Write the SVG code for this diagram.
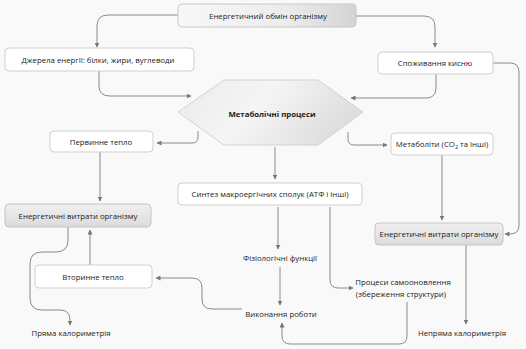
<svg xmlns="http://www.w3.org/2000/svg" width="526" height="349" viewBox="0 0 526 349">
<defs>
<linearGradient id="gTop" x1="0" y1="0" x2="1" y2="0">
<stop offset="0" stop-color="#f8f8f8"/><stop offset="0.6" stop-color="#ececec"/><stop offset="1" stop-color="#d4d4d4"/>
</linearGradient>
<linearGradient id="gBox" x1="0" y1="0" x2="0" y2="1">
<stop offset="0" stop-color="#f0f0f0"/><stop offset="0.5" stop-color="#e6e6e6"/><stop offset="1" stop-color="#dadada"/>
</linearGradient>
<linearGradient id="gHex" x1="0" y1="0" x2="1" y2="0.3">
<stop offset="0" stop-color="#eaeaea"/><stop offset="0.5" stop-color="#f5f5f5"/><stop offset="1" stop-color="#dedede"/>
</linearGradient>
<marker id="ah" viewBox="0 0 10 10" refX="9" refY="5" markerWidth="5" markerHeight="5" markerUnits="userSpaceOnUse" orient="auto">
<path d="M0,0 L10,5 L0,10 z" fill="#777"/>
</marker>
<style>
.box{fill:#ffffff;stroke:#cfcfcf;stroke-width:1}
.gbox{fill:url(#gBox);stroke:#c4c4c4;stroke-width:1}
.t{font-family:"Open Sans","Liberation Sans",sans-serif;font-size:7.8px;fill:#222;text-anchor:middle}
.b{font-weight:bold}
.c{fill:none;stroke:#8a8a8a;stroke-width:1;marker-end:url(#ah)}
</style>
</defs>
<rect x="0" y="0" width="526" height="349" fill="#f9f9f9"/>

<g id="connectors">
<path class="c" d="M178,15 L108,15 Q97,15 97,26 L97,47"/>
<path class="c" d="M356,16 L424,16 Q435,16 435,27 L435,47"/>
<path class="c" d="M99,71 L99,86 Q99,96 110,96 L191,96"/>
<path class="c" d="M436,74 L436,88 Q436,98 426,98 L351,98"/>
<path class="c" d="M493,63 L510,63 Q519,63 519,72 L519,225 Q519,234 510,234 L505,234"/>
<path class="c" d="M198,131 L198,137 Q198,143 192,143 L157,143"/>
<path class="c" d="M348,132 L348,139 Q348,145 354,145 L387,145"/>
<path class="c" d="M100,152 L100,201"/>
<path class="c" d="M275,147 L275,179"/>
<path class="c" d="M442,155 L442,220"/>
<path class="c" d="M466,245 L466,324"/>
<path class="c" d="M278,207 L278,249"/>
<path class="c" d="M330,207 L330,280 Q330,288 338,288 L353,288"/>
<path class="c" d="M280,267 L280,305"/>
<path class="c" d="M407,302 L407,336 Q407,344 399,344 L290,344 Q282,344 282,336 L282,323"/>
<path class="c" d="M242,309 L212,309 Q202,309 202,299 L202,288 Q202,278 192,278 L156,278"/>
<path class="c" d="M90,265 L90,230"/>
<path class="c" d="M68,227 L68,240 Q68,252 56,252 L42,252 Q30,252 30,264 L30,298 Q30,310 42,310 L60,310 Q70,310 70,320 L70,325"/>
</g>

<g id="n-obmin">
<rect x="178" y="4" width="178" height="23" rx="4" fill="url(#gTop)" stroke="#c8c8c8"/>
<text class="t" x="268" y="19">Енергетичний обмін організму</text>
</g>
<g id="n-dzherela">
<rect class="box" x="5" y="48" width="189" height="23" rx="4"/>
<text class="t" x="98" y="63" font-size="8.2px">Джерела енергії: білки, жири, вуглеводи</text>
</g>
<g id="n-kysen">
<rect class="box" x="378" y="52" width="115" height="22" rx="4"/>
<text class="t" x="435" y="66">Споживання кисню</text>
</g>
<g id="n-metab">
<polygon points="224,80 318,80 363,112 318,145 224,145 178,112" fill="url(#gHex)" stroke="#d2d2d2"/>
<text class="t b" x="272" y="117">Метаболічні процеси</text>
</g>
<g id="n-pervynne">
<rect class="box" x="50" y="131" width="103" height="21" rx="4"/>
<text class="t" x="101" y="145">Первинне тепло</text>
</g>
<g id="n-metabolity">
<rect class="box" x="391" y="133" width="102" height="22" rx="4"/>
<text class="t" x="442" y="147">Метаболіти (CO<tspan font-size="5.5px" dy="2">2</tspan><tspan dy="-2"> та інші)</tspan></text>
</g>
<g id="n-syntez">
<rect class="box" x="178" y="183" width="184" height="22" rx="4"/>
<text class="t" x="270" y="197">Синтез макроергічних сполук (АТФ і інші)</text>
</g>
<g id="n-vytraty-left">
<rect class="gbox" x="5" y="204" width="146" height="23" rx="4"/>
<text class="t" x="78" y="219" font-size="8.1px">Енергетичні витрати організму</text>
</g>
<g id="n-vytraty-right">
<rect class="gbox" x="375" y="223" width="128" height="22" rx="4"/>
<text class="t" x="439" y="237" font-size="7.1px">Енергетичні витрати організму</text>
</g>
<g id="n-fiziol">
<text class="t" x="280" y="261">Фізіологічні функції</text>
</g>
<g id="n-vtorynne">
<rect class="box" x="35" y="265" width="117" height="23" rx="4"/>
<text class="t" x="93" y="280">Вторинне тепло</text>
</g>
<g id="n-procesy">
<text class="t" x="403" y="285">Процеси самооновлення</text>
<text class="t" x="401" y="297">(збереження структури)</text>
</g>
<g id="n-vykonannya">
<text class="t" x="281" y="317">Виконання роботи</text>
</g>
<g id="n-pryama">
<text class="t" x="71" y="336" font-size="8.2px">Пряма калориметрія</text>
</g>
<g id="n-nepryama">
<text class="t" x="462" y="336">Непряма калориметрія</text>
</g>
</svg>
